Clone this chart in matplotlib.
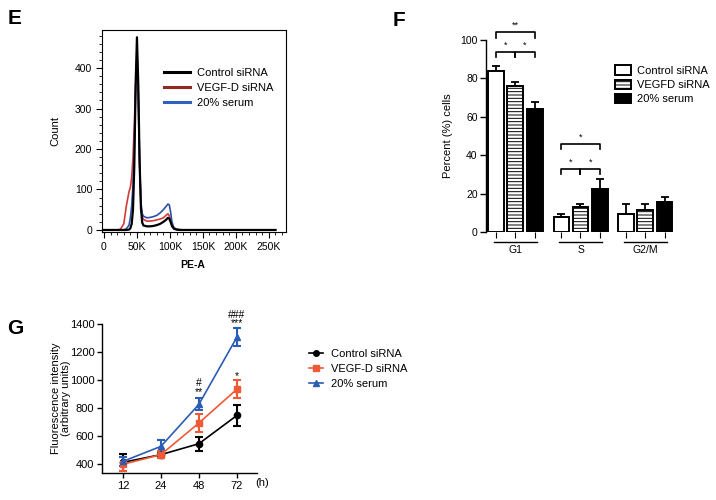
import numpy as np
import matplotlib
matplotlib.use("Agg")
from matplotlib import pyplot as plt
from matplotlib.ticker import MultipleLocator
from matplotlib.lines import Line2D

plt.rcParams['font.family'] = ['Liberation Sans', 'DejaVu Sans']

# ---- panel E: cell-cycle histogram (PE-A, in K) ----
hist_x = [0, 20, 25, 30, 34, 38, 40, 42, 44, 46, 48, 50, 52, 54, 56, 58, 60,
          65, 70, 75, 80, 85, 90, 94, 97, 99, 101, 103, 106, 110, 115, 120, 260]
hist_control = [0, 0, 0, 0, 0, 1, 4, 15, 50, 160, 360, 476, 360, 170, 55, 18, 11,
                9, 9, 10, 12, 15, 20, 25, 30, 28, 20, 10, 3, 1, 0, 0, 0]
hist_vegfd = [0, 0, 2, 15, 60, 95, 105, 130, 180, 260, 360, 415, 320, 160, 60, 32, 26,
              22, 22, 23, 25, 27, 30, 36, 40, 35, 25, 14, 6, 2, 1, 0, 0]
hist_serum = [0, 0, 0, 0, 3, 12, 30, 60, 110, 200, 350, 440, 340, 170, 70, 40, 34,
              30, 31, 33, 36, 42, 50, 58, 64, 62, 45, 20, 5, 1, 0, 0, 0]
hist_labels = ['Control siRNA', 'VEGF-D siRNA', '20% serum']

# ---- panel F: cell-cycle phases ----
phases = ['G1', 'S', 'G2/M']
pct_control = [83.9, 7.6, 9.5]
err_control = [2.6, 1.9, 5.0]
pct_vegfd = [76.3, 13.0, 11.3]
err_vegfd = [2.0, 1.6, 3.3]
pct_serum = [64.0, 22.4, 15.4]
err_serum = [3.5, 5.2, 2.8]
bar_labels = ['Control siRNA', 'VEGFD siRNA', '20% serum']

# ---- panel G: fluorescence over time ----
hours = ['12', '24', '48', '72']
fl_control = [412, 467, 545, 747]
fl_control_err = [62, 20, 50, 72]
fl_vegfd = [398, 467, 693, 934]
fl_vegfd_err = [50, 25, 62, 65]
fl_serum = [419, 526, 826, 1305]
fl_serum_err = [30, 47, 42, 65]

W, H = 716, 500
fig = plt.figure(figsize=(W / 100, H / 100), dpi=100)


def add_ax(l, t, r, b):
    return fig.add_axes([l / W, 1 - b / H, (r - l) / W, (b - t) / H])


def ftext(x, y, s, **kw):
    fig.text(x / W, 1 - y / H, s, **kw)


# ================= E =================
axE = add_ax(102, 30, 286, 232)
axE.plot(hist_x, hist_vegfd, color='#d63a36', lw=1.2, label=hist_labels[1])
axE.plot(hist_x, hist_serum, color='#2c4fa8', lw=1.2, label=hist_labels[2])
axE.plot(hist_x, hist_control, color='black', lw=1.6, label=hist_labels[0])
axE.set_xlim(-3, 276)
axE.set_ylim(-5, 494)
axE.set_xticks([0, 50, 100, 150, 200, 250])
axE.set_xticklabels(['0', '50K', '100K', '150K', '200K', '250K'])
axE.set_yticks([0, 100, 200, 300, 400])
axE.xaxis.set_minor_locator(MultipleLocator(10))
axE.yaxis.set_minor_locator(MultipleLocator(20))
axE.tick_params(which='major', direction='out', length=4, width=0.8, labelsize=7.5, pad=3)
axE.tick_params(which='minor', direction='out', length=2, width=0.6)
for s in axE.spines.values():
    s.set_linewidth(0.8)
h, l = axE.get_legend_handles_labels()
order = [2, 0, 1]
leg_colors = ['black', '#8e2a22', '#2f5fbf']
legE = axE.legend([h[i] for i in order], [l[i] for i in order], loc='upper left',
                  bbox_to_anchor=(0.28, 0.86), frameon=False, fontsize=8,
                  handlelength=2.4, handletextpad=0.6, labelspacing=0.45)
for line, c in zip(legE.get_lines(), leg_colors):
    line.set_color(c)
    line.set_linewidth(2.2)
ftext(55, 131, 'Count', fontsize=8, rotation=90, ha='center', va='center')
ftext(193, 265, 'PE-A', fontsize=7.5, fontweight='bold', ha='center', va='center')

# ================= F =================
axF = add_ax(486, 40, 678, 232)
centers = np.array([0.0, 3.45, 6.85])
offs = [-1.0, 0.0, 1.05]
bw = 0.82
series = [(pct_control, err_control, 'white', ''),
          (pct_vegfd, err_vegfd, 'white', '-----'),
          (pct_serum, err_serum, 'black', '')]
plt.rcParams['hatch.linewidth'] = 0.7
xt = []
for k, (vals, errs, fc, hatch) in enumerate(series):
    xs = centers + offs[k]
    xt.extend(xs)
    axF.bar(xs, vals, bw, color=fc, edgecolor='black', linewidth=1.4, hatch=hatch,
            label=bar_labels[k], zorder=2)
    axF.errorbar(xs, vals, yerr=[np.zeros(3), errs], fmt='none', ecolor='black',
                 elinewidth=1.3, capsize=3, capthick=1.3, zorder=3)
axF.set_xlim(-1.52, 8.6)
axF.set_ylim(0, 100)
axF.set_yticks([0, 20, 40, 60, 80, 100])
axF.set_xticks(sorted(xt))
axF.set_xticklabels([])
axF.tick_params(axis='y', direction='out', length=4, width=1.0, labelsize=7.5, pad=2)
axF.tick_params(axis='x', direction='out', length=4, width=0.8)
axF.spines['top'].set_visible(False)
axF.spines['right'].set_visible(False)
axF.spines['bottom'].set_visible(False)
axF.spines['left'].set_linewidth(1.0)
for c, name in zip(centers, phases):
    axF.plot([c - 1.1, c + 1.15], [-5.2, -5.2], color='black', lw=1.0, clip_on=False)
    axF.text(c + 0.02, -9.2, name, fontsize=7.5, ha='center', va='center', clip_on=False)
axF.set_ylabel('Percent (%) cells', fontsize=8, labelpad=5)


def bracket(ax, x1, x2, y, dh, txt, ty):
    ax.plot([x1, x1, x2, x2], [y - dh, y, y, y - dh], color='black', lw=1.2,
            clip_on=False)
    ax.text((x1 + x2) / 2, ty, txt, fontsize=6.5, ha='center', va='center', clip_on=False)


g1 = centers[0] + np.array(offs)
bracket(axF, g1[0], g1[2], 104, 2.8, '**', 107.5)
bracket(axF, g1[0], g1[1], 94, 2.8, '*', 97.5)
bracket(axF, g1[1], g1[2], 94, 2.8, '*', 97.5)
sp = centers[1] + np.array(offs)
bracket(axF, sp[0], sp[2], 46, 2.8, '*', 49.5)
bracket(axF, sp[0], sp[1], 33, 2.8, '*', 36.5)
bracket(axF, sp[1], sp[2], 33, 2.8, '*', 36.5)
axF.legend(loc='upper left', bbox_to_anchor=(0.62, 0.92), frameon=False, fontsize=8,
           handlelength=1.4, handleheight=0.9, handletextpad=0.6, labelspacing=0.35)

# ================= G =================
axG = add_ax(102, 324, 257, 473)
xg = np.arange(len(hours))
g_series = [(fl_control, fl_control_err, 'black', 'o', 'Control siRNA'),
            (fl_vegfd, fl_vegfd_err, '#ee5a36', 's', 'VEGF-D siRNA'),
            (fl_serum, fl_serum_err, '#2b5db4', '^', '20% serum')]
handles = []
for vals, errs, c, m, lab in g_series:
    axG.errorbar(xg, vals, yerr=errs, color=c, marker=m, markersize=4.5, lw=1.2,
                 elinewidth=1.5, capsize=3, capthick=1.5)
    handles.append(Line2D([], [], color=c, marker=m, markersize=4, lw=1.2, label=lab))
axG.set_xlim(-0.55, 3.53)
axG.set_ylim(336, 1400)
axG.set_yticks([400, 600, 800, 1000, 1200, 1400])
axG.set_xticks(xg)
axG.set_xticklabels(hours)
axG.tick_params(direction='out', length=3.5, width=1.0, labelsize=8, pad=2)
axG.spines['top'].set_visible(False)
axG.spines['right'].set_visible(False)
axG.spines['left'].set_linewidth(1.0)
axG.spines['bottom'].set_linewidth(1.0)
ftext(61, 398, 'Fluorescence intensity\n(arbitrary units)', fontsize=8, rotation=90,
      ha='center', va='center', linespacing=1.1, multialignment='center')
axG.text(2, 976, '#', fontsize=7.5, ha='center', va='center')
axG.text(2, 914, '**', fontsize=7.5, ha='center', va='center')
axG.text(3, 1466, '###', fontsize=7.5, ha='center', va='center', clip_on=False)
axG.text(3, 1405, '***', fontsize=7.5, ha='center', va='center', clip_on=False)
axG.text(3, 1027, '*', fontsize=7.5, ha='center', va='center')
ftext(262, 483, '(h)', fontsize=8, ha='center', va='center')
axG.legend(handles=handles, loc='upper left', bbox_to_anchor=(1.27, 0.9), frameon=False,
           fontsize=8, handlelength=1.3, handletextpad=0.7, labelspacing=0.45)

# panel letters
ftext(15, 19, 'E', fontsize=15, fontweight='bold', ha='center', va='center')
ftext(399, 20, 'F', fontsize=15, fontweight='bold', ha='center', va='center')
ftext(15, 328, 'G', fontsize=15, fontweight='bold', ha='center', va='center')

fig.savefig('out.png', dpi=100)
